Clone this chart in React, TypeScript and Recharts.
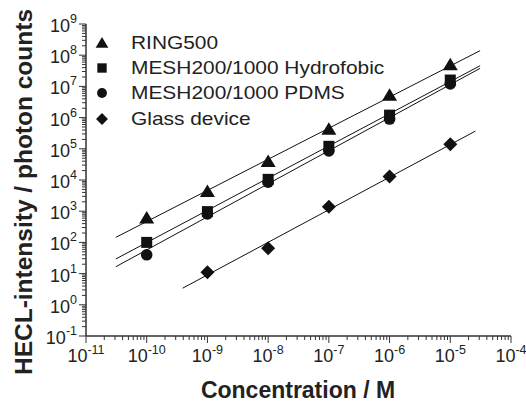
import { ComposedChart, Line, Scatter, XAxis, YAxis } from 'recharts';

// concentrations (M)
const conc = [1e-10, 1e-9, 1e-8, 1e-7, 1e-6, 1e-5];
const glassConc = [1e-9, 1e-8, 1e-7, 1e-6, 1e-5];

// HECL intensity (photon counts)
const ring500 = [600, 4300, 39000, 420000, 5200000, 49000000];
const meshHydro = [100, 970, 10500, 120000, 1200000, 16000000];
const meshPdms = [40, 820, 8500, 85000, 900000, 12000000];
const glass = [11, 65, 1400, 13000, 140000];

// fitted lines: [start, end] as (x, y)
const ringFit = [[3.1e-11, 145], [3.1e-5, 1.4e8]];
const hydroFit = [[3.1e-11, 29.5], [3.1e-5, 4.6e7]];
const pdmsFit = [[3.1e-11, 16.6], [3.1e-5, 3.8e7]];
const glassFit = [[3.9e-10, 3.4], [2.6e-5, 3.7e5]];

const xExps = [-11, -10, -9, -8, -7, -6, -5, -4];
const yExps = [-1, 0, 1, 2, 3, 4, 5, 6, 7, 8, 9];

const seriesNames = ['RING500', 'MESH200/1000 Hydrofobic', 'MESH200/1000 PDMS', 'Glass device'];
const kinds = ['triangle', 'square', 'circle', 'diamond'];

const pts = (xs: number[], ys: number[]) => xs.map((x, i) => ({ x, y: ys[i] }));
const fit = (f: number[][]) => f.map(([x, y]) => ({ x, y }));

function withMinors(exps: number[]) {
  const out: number[] = [];
  exps.forEach((e, i) => {
    if (i === exps.length - 1) {
      out.push(Math.pow(10, e));
      return;
    }
    for (let m = 1; m < 10; m++) out.push(m * Math.pow(10, e));
  });
  return out;
}

const xTicks = withMinors(xExps);
const yTicks = withMinors(yExps);

const isMajor = (v: number) => Math.abs(Math.log10(v) - Math.round(Math.log10(v))) < 1e-6;

const INK = '#111';
const FONT = 'Liberation Sans, Arial, sans-serif';

function Marker({ kind, cx, cy, s = 1 }: { kind: string; cx: number; cy: number; s?: number }) {
  if (kind === 'triangle')
    return <polygon points={`${cx},${cy - 7 * s} ${cx - 7.5 * s},${cy + 5.5 * s} ${cx + 7.5 * s},${cy + 5.5 * s}`} fill={INK} />;
  if (kind === 'square') return <rect x={cx - 5.5 * s} y={cy - 5.5 * s} width={11 * s} height={11 * s} fill={INK} />;
  if (kind === 'circle') return <circle cx={cx} cy={cy} r={5.8 * s} fill={INK} />;
  return <polygon points={`${cx},${cy - 7 * s} ${cx + 7 * s},${cy} ${cx},${cy + 7 * s} ${cx - 7 * s},${cy}`} fill={INK} />;
}

function XTick(props: any) {
  const { x, y, payload } = props;
  const v = payload.value;
  const major = isMajor(v);
  return (
    <g>
      <line x1={x} x2={x} y1={y} y2={y + (major ? 7 : 4)} stroke="#333" strokeWidth={1} />
      {major && (
        <text x={x} y={y + 26} textAnchor="middle" fontFamily={FONT} fill="#222">
          <tspan fontSize={18}>10</tspan>
          <tspan fontSize={12.5} dy={-8}>{Math.round(Math.log10(v))}</tspan>
        </text>
      )}
    </g>
  );
}

function YTick(props: any) {
  const { x, y, payload } = props;
  const v = payload.value;
  const major = isMajor(v);
  return (
    <g>
      <line x1={x - (major ? 7 : 4)} x2={x} y1={y} y2={y} stroke="#333" strokeWidth={1} />
      {major && (
        <text x={x - 9} y={y + 8} textAnchor="end" fontFamily={FONT} fill="#222">
          <tspan fontSize={18}>10</tspan>
          <tspan fontSize={12.5} dy={-9}>{Math.round(Math.log10(v))}</tspan>
        </text>
      )}
    </g>
  );
}

function LegendBox() {
  return (
    <div style={{ position: 'absolute', left: 93, top: 30, fontFamily: FONT, fontSize: 19, color: '#222' }}>
      {seriesNames.map((n, i) => (
        <div key={n} style={{ display: 'flex', alignItems: 'center', height: 25.3 }}>
          <svg width={18} height={20} style={{ marginRight: 20 }}>
            <Marker kind={kinds[i]} cx={9} cy={10} s={0.85} />
          </svg>
          <span style={{ display: 'inline-block', transform: 'scaleX(1.1)', transformOrigin: 'left center', whiteSpace: 'nowrap' }}>{n}</span>
        </div>
      ))}
    </div>
  );
}

export default function App() {
  const scatterSets = [pts(conc, ring500), pts(conc, meshHydro), pts(conc, meshPdms), pts(glassConc, glass)];
  const fits = [fit(ringFit), fit(hydroFit), fit(pdmsFit), fit(glassFit)];
  return (
    <div style={{ position: 'absolute', left: 0, top: 0, width: 526, height: 403, background: '#fff' }}>
      <ComposedChart width={526} height={403} margin={{ top: 24, right: 15, bottom: 27, left: 30 }}>
        <XAxis
          dataKey="x"
          type="number"
          scale="log"
          domain={[1e-11, 1e-4]}
          allowDataOverflow
          ticks={xTicks}
          interval={0}
          tick={<XTick />}
          tickLine={false}
          tickSize={0}
          tickMargin={0}
          height={40}
          stroke="#333"
          strokeWidth={1.5}
        />
        <XAxis xAxisId="top" orientation="top" type="number" scale="log" domain={[1e-11, 1e-4]} tick={false} tickLine={false} height={0} stroke="#777" strokeWidth={1.5} />
        <YAxis
          dataKey="y"
          type="number"
          scale="log"
          domain={[0.1, 1e9]}
          allowDataOverflow
          ticks={yTicks}
          interval={0}
          tick={<YTick />}
          tickLine={false}
          tickSize={0}
          tickMargin={0}
          width={56}
          stroke="#333"
          strokeWidth={1.5}
        />
        <YAxis yAxisId="right" orientation="right" type="number" scale="log" domain={[0.1, 1e9]} tick={false} tickLine={false} width={0} stroke="#777" strokeWidth={1.5} />
        {fits.map((d, i) => (
          <Line key={'f' + i} data={d} dataKey="y" stroke={INK} strokeWidth={1} dot={false} isAnimationActive={false} legendType="none" />
        ))}
        {scatterSets.map((d, i) => (
          <Scatter
            key={'s' + i}
            name={seriesNames[i]}
            data={d}
            dataKey="y"
            isAnimationActive={false}
            shape={(p: any) => <Marker kind={kinds[i]} cx={p.cx} cy={p.cy} />}
          />
        ))}
        <text x={298} y={398} textAnchor="middle" fontFamily={FONT} fontWeight="bold" fontSize={23} fill="#222">
          Concentration / M
        </text>
        <text x={0} y={0} transform="translate(32,192) rotate(-90)" textAnchor="middle" fontFamily={FONT} fontWeight="bold" fontSize={24.5} fill="#222">
          HECL-intensity / photon counts
        </text>
      </ComposedChart>
      <LegendBox />
    </div>
  );
}
